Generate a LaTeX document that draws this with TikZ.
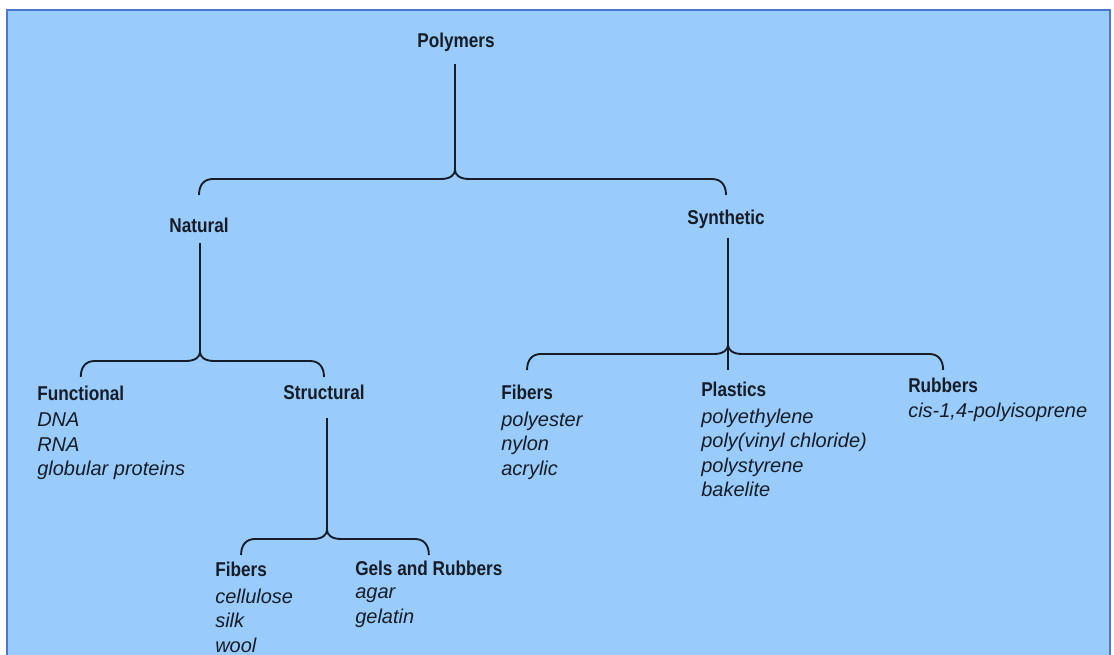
\documentclass[tikz,border=0pt]{standalone}
\usepackage{fontspec}
\setmainfont{Liberation Sans}
\newfontfamily\headfont[FakeStretch=0.86]{Liberation Sans}
\usepackage{tikz}
\usetikzlibrary{positioning,calc}
\definecolor{sheet}{RGB}{153,204,250}
\definecolor{frame}{RGB}{74,120,204}
\definecolor{ink}{RGB}{22,28,40}
\tikzset{link/.style={ink, line width=1.4pt, line join=round}}
% curly bracket: left child, tip, right child
\newcommand{\tbrace}[3]{%
  \draw[link] ($(#1.north |- #2)+(0,25)$)
    .. controls +(0,-10) and +(-9,0) .. ($(#1.north |- #2)+(14,9)$)
    -- ($(#2)+(-14,9)$)
    .. controls +(9,0) and +(0,5) .. (#2)
    .. controls +(0,5) and +(-9,0) .. ($(#2)+(14,9)$)
    -- ($(#3.north |- #2)+(-14,9)$)
    .. controls +(9,0) and +(0,-10) .. ($(#3.north |- #2)+(0,25)$);}

\begin{document}
\begin{tikzpicture}[x=0.75pt,y=-0.75pt,
head/.style={font=\headfont\bfseries\fontsize{15}{17}\selectfont, text=ink, inner sep=0pt},
items/.style={font=\itshape\fontsize{15}{18.4}\selectfont, text=ink, inner sep=0pt, align=left, anchor=north west},
]
\useasboundingbox (0,0) rectangle (1114,655);
\fill[white] (0,0) rectangle (1114,655);
\draw[frame, line width=2.2pt, fill=sheet] (7,10) rectangle (1110,680);

%Nodes
\node[head] (poly) at (456,42) {Polymers};
\node[head] (nat) at (199,225) {Natural};
\node[head] (syn) at (726,219) {Synthetic};
\node[head, anchor=west] (fun) at (37,393) {Functional};
\node[head] (str) at (324,392) {Structural};
\node[head, anchor=west] (fibn) at (215,569) {Fibers};
\node[head, anchor=west] (gel) at (355,568) {Gels and Rubbers};
\node[head, anchor=west] (fibs) at (501,392) {Fibers};
\node[head, anchor=west] (pla) at (701,389) {Plastics};
\node[head, anchor=west] (rub) at (908,385) {Rubbers};

\node[items] (funlist) at ($(fun.south west)+(0,12)$) {DNA\\RNA\\globular proteins};
\node[items] (fibnlist) at ($(fibn.south west)+(0,12)$) {cellulose\\silk\\wool};
\node[items] (gellist) at ($(gel.south west)+(0,12)$) {agar\\gelatin};
\node[items] (fibslist) at ($(fibs.south west)+(0,12)$) {polyester\\nylon\\acrylic};
\node[items] (plalist) at ($(pla.south west)+(0,12)$) {polyethylene\\poly(vinyl chloride)\\polystyrene\\bakelite};
\node[items] (rublist) at ($(rub.south west)+(0,10)$) {cis-1,4-polyisoprene};

\coordinate (t1) at ($(poly)+(-1,128)$);
\coordinate (t2) at ($(nat)+(1,127)$);
\coordinate (t3) at ($(str)+(3,138)$);
\coordinate (t4) at ($(syn)+(2,126)$);
\coordinate (s4) at ($(t4)+(0,25)$);

%Lines
\draw[link] (poly.south) ++(-1,12) -- (t1);
\draw[link] (nat.south) ++(1,10) -- (t2);
\draw[link] (str.south) ++(3,18) -- (t3);
\draw[link] (syn.south) ++(2,9) -- (s4);

\tbrace{nat}{t1}{syn}
\tbrace{fun}{t2}{str}
\tbrace{fibn}{t3}{gel}
\tbrace{fibs}{t4}{rub}
\end{tikzpicture}
\end{document}
